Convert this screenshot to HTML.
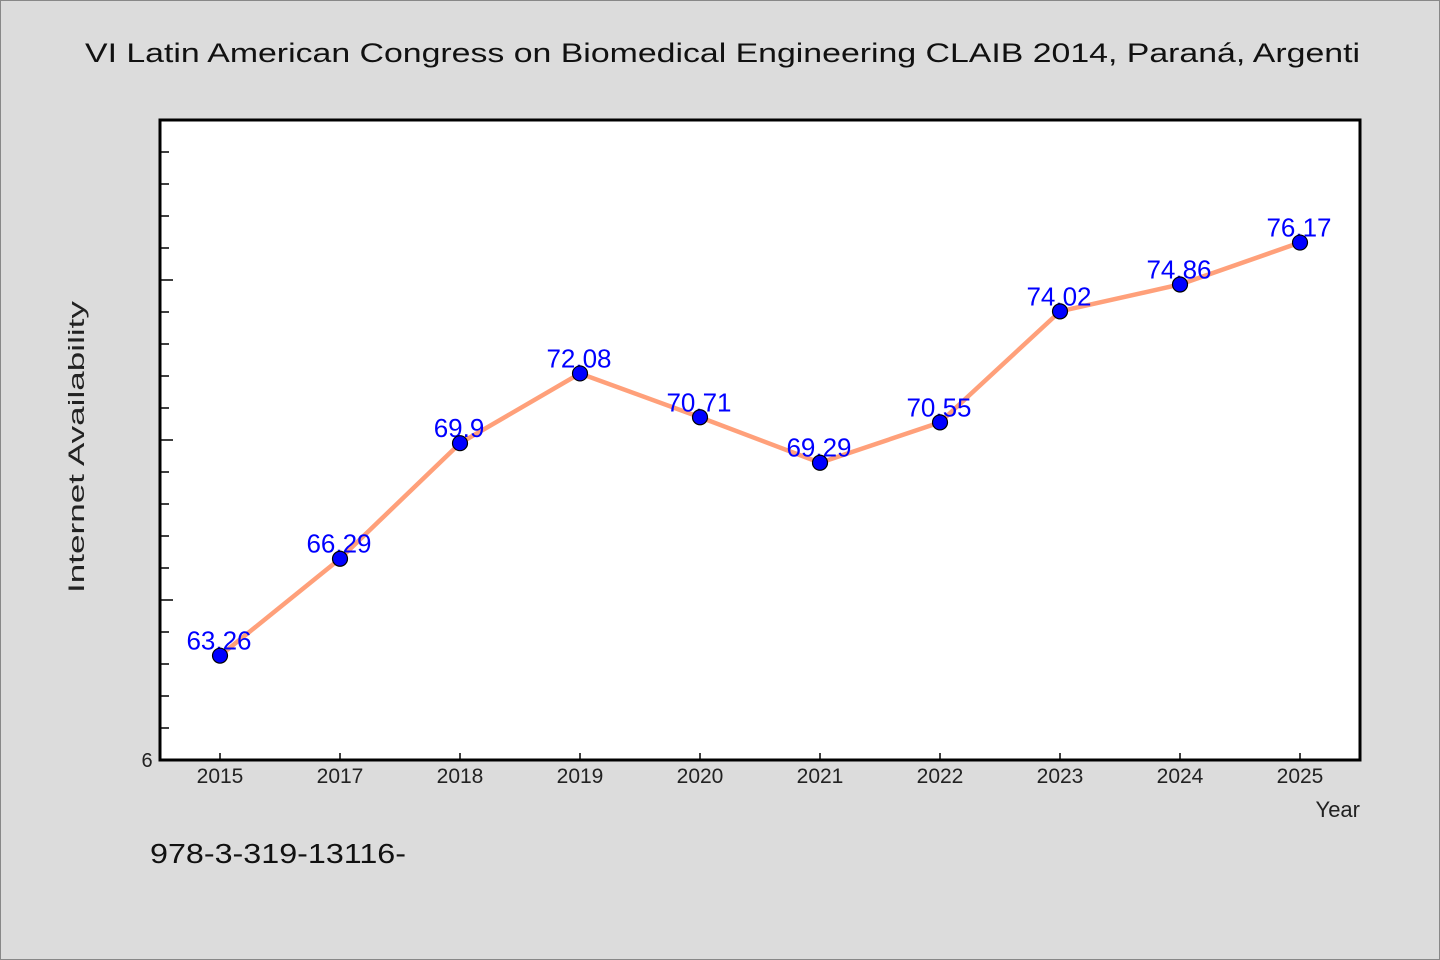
<!DOCTYPE html>
<html><head><meta charset="utf-8"><style>
html,body{margin:0;padding:0;background:#dcdcdc;}
svg{display:block;font-family:"WenQuanYi Zen Hei","Liberation Sans",sans-serif;}
</style></head><body>
<svg id="chart" width="1440" height="960" viewBox="0 0 1440 960">
<rect x="0.5" y="0.5" width="1439" height="959" fill="#dcdcdc" stroke="#888"/>
<text x="85" y="62" font-size="27" fill="#111" textLength="1275" lengthAdjust="spacingAndGlyphs">VI Latin American Congress on Biomedical Engineering CLAIB 2014, Paraná, Argenti</text>
<rect x="160" y="120" width="1200" height="640" fill="#fff"/>
<g id="ticks"></g>
<g id="series"></g>
<rect x="160" y="120" width="1200" height="640" fill="none" stroke="#000" stroke-width="3"/>
<text x="147" y="767" font-size="20" text-anchor="middle" fill="#222">6</text>
<text transform="translate(84,447) rotate(-90)" font-size="22" text-anchor="middle" fill="#222" textLength="292" lengthAdjust="spacingAndGlyphs">Internet Availability</text>
<text x="1360" y="817" font-size="22" text-anchor="end" fill="#222">Year</text>
<text x="150" y="863" font-size="28" fill="#111" textLength="256" lengthAdjust="spacingAndGlyphs">978-3-319-13116-</text>
</svg>
<script>
const categories = ["2015","2017","2018","2019","2020","2021","2022","2023","2024","2025"];
const values = [63.26,66.29,69.9,72.08,70.71,69.29,70.55,74.02,74.86,76.17];
const valueLabels = ["63.26","66.29","69.9","72.08","70.71","69.29","70.55","74.02","74.86","76.17"];
const yMin = 60, yMax = 80;
const NS = "http://www.w3.org/2000/svg";
const L=160,R=1360,T=120,B=760;
const band=(R-L)/categories.length;
const x=i=>L+band*(i+0.5);
const y=v=>B-(v-yMin)/(yMax-yMin)*(B-T);
function mk(tag,attrs,parent){const e=document.createElementNS(NS,tag);for(const k in attrs)e.setAttribute(k,attrs[k]);parent.appendChild(e);return e;}
const tg=document.getElementById('ticks');
for(let v=yMin+1;v<yMax;v++){
  const major=(v%5===0);
  const t=mk('line',{x1:L,x2:L+(major?13:9),y1:y(v),y2:y(v),stroke:'#000','stroke-width':1.5},tg);
  
  
}
categories.forEach((c,i)=>{
  const t=mk('line',{x1:x(i),x2:x(i),y1:B,y2:B-7,stroke:'#000','stroke-width':1.5},tg);
  
  
  const lb=mk('text',{x:x(i),y:783,'font-size':21,'text-anchor':'middle',fill:'#222'},tg);
  lb.textContent=c;
  
  
});
const sg=document.getElementById('series');
const pl=mk('polyline',{points:values.map((v,i)=>x(i)+','+y(v)).join(' '),fill:'none',stroke:'#ffa07a','stroke-width':4.5,'stroke-linejoin':'round'},sg);


values.forEach((v,i)=>{
  const lb=mk('text',{x:x(i)-1,y:y(v)-6,'font-size':26,'text-anchor':'middle',fill:'#0000ff'},sg);
  lb.textContent=valueLabels[i];
  
  
  const c=mk('circle',{cx:x(i),cy:y(v),r:7.5,fill:'#0000ff',stroke:'#000','stroke-width':1.2},sg);
  
  
});
</script>
</body></html>
